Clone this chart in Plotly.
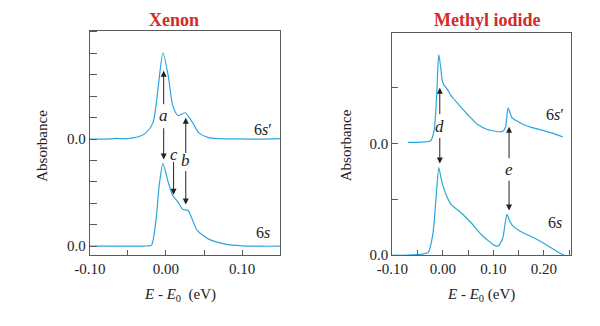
import plotly.graph_objects as go

# Xenon spectra (absorbance relative to each baseline, arbitrary units)
xe_e_6sp = [-0.10, -0.08, -0.065, -0.055, -0.045, -0.035, -0.026, -0.017, -0.010, -0.004,
            0.003, 0.009, 0.016, 0.025, 0.035, 0.043, 0.056, 0.07, 0.09, 0.12, 0.15]
xe_a_6sp = [0.0, 0.0, 0.03, 0.02, 0.05, 0.12, 0.3, 0.77, 2.5, 4.02,
            2.95, 1.55, 1.1, 1.23, 0.77, 0.3, 0.07, 0.02, 0.01, 0.0, 0.02]
xe_e_6s = [-0.10, -0.05, -0.025, -0.019, -0.013, -0.009, -0.004, 0.003, 0.009, 0.016,
           0.022, 0.029, 0.035, 0.041, 0.056, 0.078, 0.10, 0.125, 0.15]
xe_a_6s = [0.0, 0.0, 0.01, 0.05, 1.26, 2.8, 3.86, 2.98, 2.37, 2.05,
           1.72, 1.67, 1.21, 0.74, 0.33, 0.1, 0.02, 0.0, 0.0]

# Methyl iodide spectra
mi_e_6sp = [-0.069, -0.05, -0.035, -0.024, -0.017, -0.012, -0.008, -0.004, -0.001, 0.002,
            0.009, 0.016, 0.031, 0.049, 0.069, 0.088, 0.104, 0.114, 0.12, 0.124,
            0.129, 0.133, 0.137, 0.145, 0.159, 0.175, 0.192, 0.215, 0.237]
mi_a_6sp = [0.02, 0.02, 0.03, 0.05, 0.25, 0.91, 1.59, 1.35, 1.12, 1.05,
            0.97, 0.86, 0.70, 0.52, 0.34, 0.25, 0.22, 0.21, 0.23, 0.29,
            0.64, 0.55, 0.46, 0.41, 0.34, 0.29, 0.25, 0.19, 0.12]
mi_e_6s = [-0.10, -0.07, -0.05, -0.04, -0.029, -0.02, -0.014, -0.008, -0.004, 0.0,
           0.008, 0.016, 0.035, 0.055, 0.075, 0.094, 0.108, 0.118, 0.123, 0.127,
           0.132, 0.137, 0.153, 0.178, 0.206, 0.231, 0.24]
mi_a_6s = [0.0, 0.0, 0.01, 0.02, 0.05, 0.36, 0.95, 1.57, 1.4, 1.25,
           1.05, 0.91, 0.77, 0.59, 0.38, 0.23, 0.16, 0.29, 0.55, 0.73,
           0.62, 0.54, 0.43, 0.32, 0.18, 0.04, 0.0]

XE_OFFSET = 5
MI_OFFSET = 2

xe_xticks = [-0.10, 0.0, 0.10]
mi_xticks = [-0.10, 0.0, 0.10, 0.20]
xe_yticks = [0, 5]
mi_yticks = [0, 2]
ylabels = ["0.0", "0.0"]

LINE = "#2ba6dc"
AX = "#5a5a5a"
RED = "#d42a2a"
FONT = "Liberation Serif"

fig = go.Figure()
for e, a, off, ax in [(xe_e_6sp, xe_a_6sp, XE_OFFSET, 1), (xe_e_6s, xe_a_6s, 0, 1),
                      (mi_e_6sp, mi_a_6sp, MI_OFFSET, 2), (mi_e_6s, mi_a_6s, 0, 2)]:
    fig.add_trace(go.Scatter(x=e, y=[v + off for v in a], mode="lines",
                             line=dict(color=LINE, width=1.2, shape="spline", smoothing=0.7),
                             xaxis="x" if ax == 1 else "x2", yaxis="y" if ax == 1 else "y2",
                             showlegend=False, hoverinfo="skip"))

axis_common = dict(showline=True, linecolor=AX, linewidth=1, mirror=True, ticks="inside",
                   tickcolor=AX, showgrid=False, zeroline=False,
                   tickfont=dict(family=FONT, size=15, color="#222"))

# domains measured against the photographed page (it lands slightly offset / scaled)
fig.update_layout(
    width=600, height=326, margin=dict(l=0, r=0, t=0, b=0),
    plot_bgcolor="white", paper_bgcolor="white",
    font=dict(family=FONT, color="#222"),
    xaxis=dict(domain=[0.1127, 0.4387], range=[-0.10, 0.15], tickvals=xe_xticks,
               ticktext=["-0.10", "0.00", "0.10"], ticklen=5, anchor="y",
               minor=dict(ticks="inside", dtick=0.05, tick0=0, ticklen=5, tickcolor=AX),
               **axis_common),
    yaxis=dict(domain=[0.2226, 0.9279], range=[-0.42, 10.05], tickvals=xe_yticks,
               ticktext=ylabels, ticklen=7, anchor="x",
               minor=dict(ticks="inside", dtick=1, tick0=0, ticklen=7, tickcolor=AX),
               **axis_common),
    xaxis2=dict(domain=[0.6306, 0.9362], range=[-0.10, 0.253], tickvals=mi_xticks,
                ticktext=["-0.10", "0.00", "0.10", "0.20"], ticklen=5, anchor="y2",
                minor=dict(ticks="inside", dtick=0.05, tick0=0, ticklen=5, tickcolor=AX),
                **axis_common),
    yaxis2=dict(domain=[0.2226, 0.9216], range=[0, 3.98], tickvals=mi_yticks,
                ticktext=ylabels, ticklen=6, anchor="x2",
                minor=dict(ticks="inside", dtick=1, tick0=0, ticklen=6, tickcolor=AX),
                **axis_common),
)

ann = []
txt = dict(showarrow=False, xanchor="center", yanchor="middle")
# titles (anchored to the top edge so they are not clipped)
for xp, t in [(0.257, "<b>Xenon</b>"), (0.7935, "<b>Methyl iodide</b>")]:
    ann.append(dict(x=xp, y=1.0, xref="paper", yref="paper", text=t, showarrow=False,
                    xanchor="center", yanchor="top", font=dict(family=FONT, size=18, color=RED)))
# axis titles
for xp in [0.0295, 0.5508]:
    ann.append(dict(x=xp, y=0.5674, xref="paper", yref="paper", text="Absorbance", textangle=-90,
                    font=dict(family=FONT, size=15, color="#222"), **txt))
ann.append(dict(x=0.2672, y=0.0972, xref="paper", yref="paper",
                text="<i>E</i> - <i>E</i><sub>0</sub>  (eV)",
                font=dict(family=FONT, size=15, color="#222"), **txt))
ann.append(dict(x=0.7833, y=0.0972, xref="paper", yref="paper",
                text="<i>E</i> - <i>E</i><sub>0</sub> (eV)",
                font=dict(family=FONT, size=15, color="#222"), **txt))

# curve labels
for x, y, t, xr, yr in [(0.127, 5.44, "6<i>s</i>′", "x", "y"), (0.127, 0.65, "6<i>s</i>", "x", "y"),
                        (0.222, 2.52, "6<i>s</i>′", "x2", "y2"), (0.222, 0.59, "6<i>s</i>", "x2", "y2")]:
    ann.append(dict(x=x, y=y, xref=xr, yref=yr, text=t,
                    font=dict(family=FONT, size=16, color="#222"), **txt))

# arrows: (head x, head y, tail x, tail y, axes)
arrows = [(-0.003, 8.19, -0.003, 6.56, "x", "y"), (-0.003, 4.05, -0.003, 5.58, "x", "y"),
          (0.026, 6.0, 0.026, 4.28, "x", "y"), (0.026, 1.95, 0.026, 3.58, "x", "y"),
          (0.010, 2.4, 0.010, 4.0, "x", "y"),
          (-0.006, 3.0, -0.006, 2.5, "x2", "y2"), (-0.006, 1.64, -0.006, 2.125, "x2", "y2"),
          (0.131, 2.3, 0.131, 1.71, "x2", "y2"), (0.131, 0.8, 0.131, 1.36, "x2", "y2")]
for hx, hy, tx, ty, xr, yr in arrows:
    ann.append(dict(x=hx, y=hy, ax=tx, ay=ty, xref=xr, yref=yr, axref=xr, ayref=yr, text="",
                    showarrow=True, arrowhead=2, arrowsize=1.2, arrowwidth=1, arrowcolor="#222"))

# arrow letters
for x, y, t, xr, yr in [(-0.003, 6.1, "a", "x", "y"), (0.026, 4.0, "b", "x", "y"),
                        (0.010, 4.3, "c", "x", "y"), (-0.006, 2.3, "d", "x2", "y2"),
                        (0.131, 1.54, "e", "x2", "y2")]:
    ann.append(dict(x=x, y=y, xref=xr, yref=yr, text="<i>" + t + "</i>",
                    font=dict(family=FONT, size=17, color="#222"), **txt))

fig.update_layout(annotations=ann)
fig.write_html("out.html")
